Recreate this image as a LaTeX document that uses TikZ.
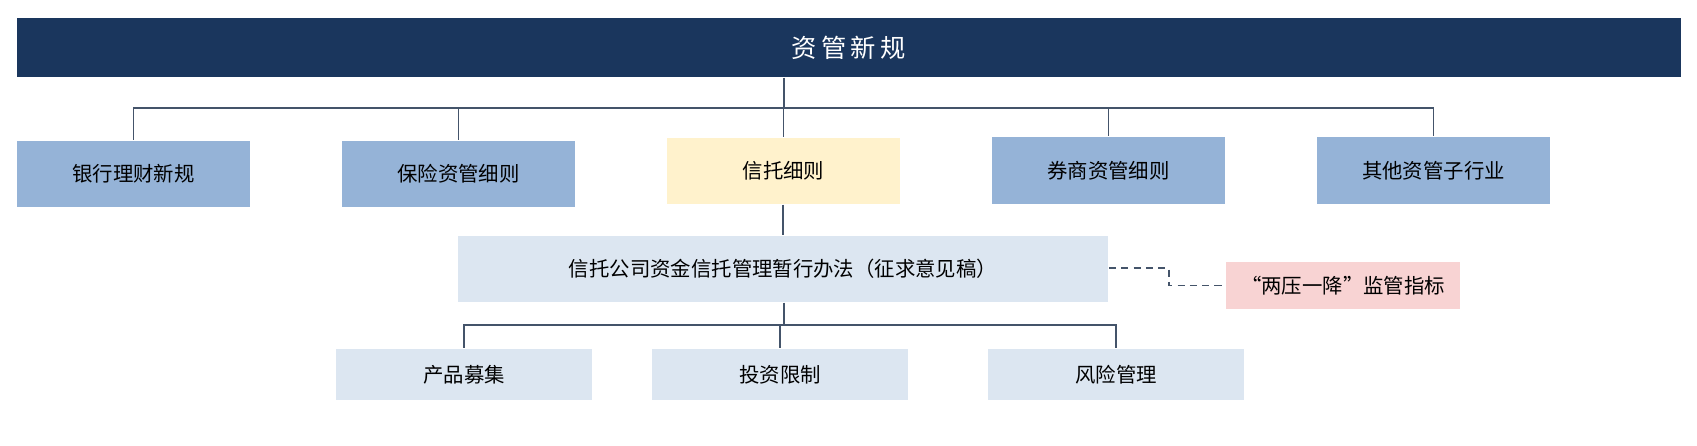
\documentclass[tikz,border=0pt]{standalone}
\usepackage{fontspec}
\setmainfont{Noto Sans CJK SC}
\usetikzlibrary{calc}
\definecolor{navy}{HTML}{1A365D}
\definecolor{midblue}{HTML}{95B3D7}
\definecolor{paleblue}{HTML}{DCE6F1}
\definecolor{paleyellow}{HTML}{FFF2CC}
\definecolor{palepink}{HTML}{F8D3D3}
\definecolor{linegray}{HTML}{44546A}
\begin{document}
\begin{tikzpicture}[x=0.01cm,y=-0.01cm,
  box/.style={inner sep=0pt,font=\fontsize{5.8}{7}\selectfont,text=black},
  link/.style={draw=linegray,line width=0.35pt}]
  % top bar
  \node[box,fill=navy,text=white,minimum width=16.63cm,minimum height=0.59cm,
    font=\fontsize{7.2}{8}\selectfont] (top) at (848.5,47.5) {资\,管\,新\,规};
  % second row
  \node[box,fill=midblue,minimum width=2.33cm,minimum height=0.66cm] (bank) at (133.5,174) {银行理财新规};
  \node[box,fill=midblue,minimum width=2.33cm,minimum height=0.66cm] (ins) at (458.5,174) {保险资管细则};
  \node[box,fill=paleyellow,minimum width=2.33cm,minimum height=0.66cm] (trust) at (783.5,171) {信托细则};
  \node[box,fill=midblue,minimum width=2.33cm,minimum height=0.67cm] (sec) at (1108.5,170.5) {券商资管细则};
  \node[box,fill=midblue,minimum width=2.33cm,minimum height=0.67cm] (other) at (1433.5,170.5) {其他资管子行业};
  % draft rules
  \node[box,fill=paleblue,minimum width=6.5cm,minimum height=0.66cm] (draft) at (783,269) {信托公司资金信托管理暂行办法（征求意见稿）};
  \node[box,fill=palepink,minimum width=2.34cm,minimum height=0.47cm] (index) at (1343,285.5) {“两压一降”监管指标};
  % bottom row
  \node[box,fill=paleblue,minimum width=2.56cm,minimum height=0.51cm] (raise) at (464,374.5) {产品募集};
  \node[box,fill=paleblue,minimum width=2.56cm,minimum height=0.51cm] (limit) at (780,374.5) {投资限制};
  \node[box,fill=paleblue,minimum width=2.56cm,minimum height=0.51cm] (risk) at (1116,374.5) {风险管理};
  % connectors
  \coordinate (hub) at (784,108);
  \draw[link] (top.south -| hub) -- (hub);
  \foreach \n in {bank,ins,trust,sec,other}
    \draw[link] (hub) -| (\n.north);
  \draw[link] (trust.south -| draft) -- (draft.north);
  \coordinate (hub2) at (784,325);
  \draw[link] (draft.south -| hub2) -- (hub2);
  \foreach \n in {raise,limit,risk}
    \draw[link] (hub2) -| (\n.north);
  \draw[link,dashed,dash pattern=on 2pt off 1.5pt] ($(draft.east)+(0,-1)$) -- ++(60,0) |- (index.west);
  \pgfresetboundingbox
  \useasboundingbox (0,0) rectangle (1697,445);
\end{tikzpicture}
\end{document}
